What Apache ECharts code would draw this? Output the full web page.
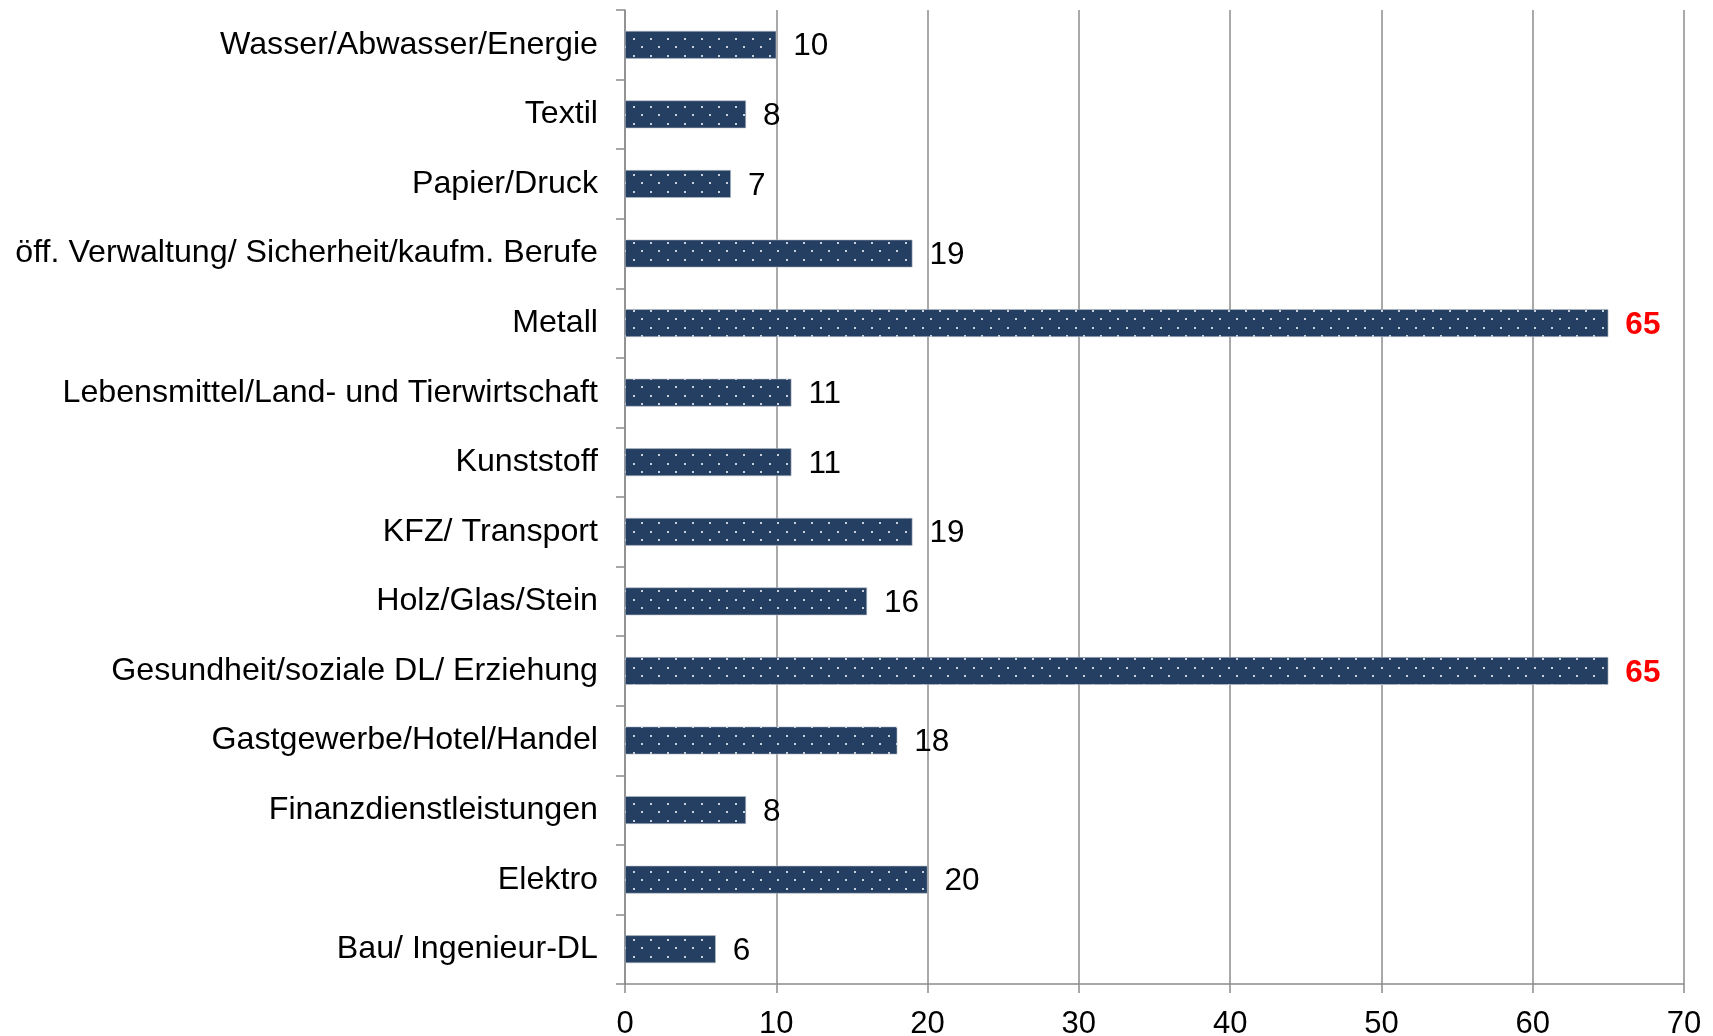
<!DOCTYPE html>
<html><head><meta charset="utf-8">
<script src="https://cdn.jsdelivr.net/npm/echarts@6/dist/echarts.min.js"></script>
<style>html,body{margin:0;padding:0;background:#fff}#c{width:1713px;height:1036px}</style>
</head><body><div id="c"></div>
<script>
const categories = ["Bau/ Ingenieur-DL","Elektro","Finanzdienstleistungen","Gastgewerbe/Hotel/Handel","Gesundheit/soziale DL/ Erziehung","Holz/Glas/Stein","KFZ/ Transport","Kunststoff","Lebensmittel/Land- und Tierwirtschaft","Metall","öff. Verwaltung/ Sicherheit/kaufm. Berufe","Papier/Druck","Textil","Wasser/Abwasser/Energie"];
const values = [6,20,8,18,65,16,19,11,11,65,19,7,8,10];
const xTicks = [0,10,20,30,40,50,60,70];
const highlightThreshold = 60;

// dotted fill pattern
const pc = document.createElement('canvas');
pc.width = 17; pc.height = 17;
const g = pc.getContext('2d');
g.fillStyle = '#253f62'; g.fillRect(0,0,17,17);
g.fillStyle = '#c9d2dc';
g.fillRect(4,4,2,2);
g.fillRect(12,12,2,2);

const chart = echarts.init(document.getElementById('c'), null, {renderer:'canvas'});
const FONT = 'Liberation Sans, Arial, sans-serif';
chart.setOption({
  animation:false,
  backgroundColor:'#fff',
  grid:{left:625,right:29,top:10,bottom:52,containLabel:false,outerBoundsMode:'none'},
  xAxis:{type:'value',min:0,max:70,interval:10,
    axisLine:{show:true,lineStyle:{color:'#8c8c8c',width:1.5}},
    axisTick:{show:true,length:9,lineStyle:{color:'#8c8c8c',width:1.5}},
    splitLine:{show:true,lineStyle:{color:'#8c8c8c',width:1.5}},
    axisLabel:{color:'#000',fontSize:31,fontFamily:FONT,margin:25,
      formatter:v=>xTicks.includes(v)?String(v):''}},
  yAxis:{type:'category',data:categories,
    axisLine:{show:true,lineStyle:{color:'#8c8c8c',width:1.5}},
    axisTick:{show:true,length:9,lineStyle:{color:'#8c8c8c',width:1.5}},
    splitLine:{show:false},
    axisLabel:{color:'#000',fontSize:32.2,fontFamily:FONT,margin:27,padding:[5,0,0,0]}},
  series:[{type:'bar',barWidth:'40%',
    data:values.map(v=>({value:v,label:v>=highlightThreshold?{color:'#ff0000',fontWeight:'bold'}:{}})),
    itemStyle:{color:{image:pc,repeat:'repeat'},borderColor:'#b9c0c8',borderWidth:0.6},
    label:{show:true,position:'right',distance:17,offset:[0,2],color:'#000',fontSize:31.5,fontFamily:FONT}
  }]
});
</script></body></html>
